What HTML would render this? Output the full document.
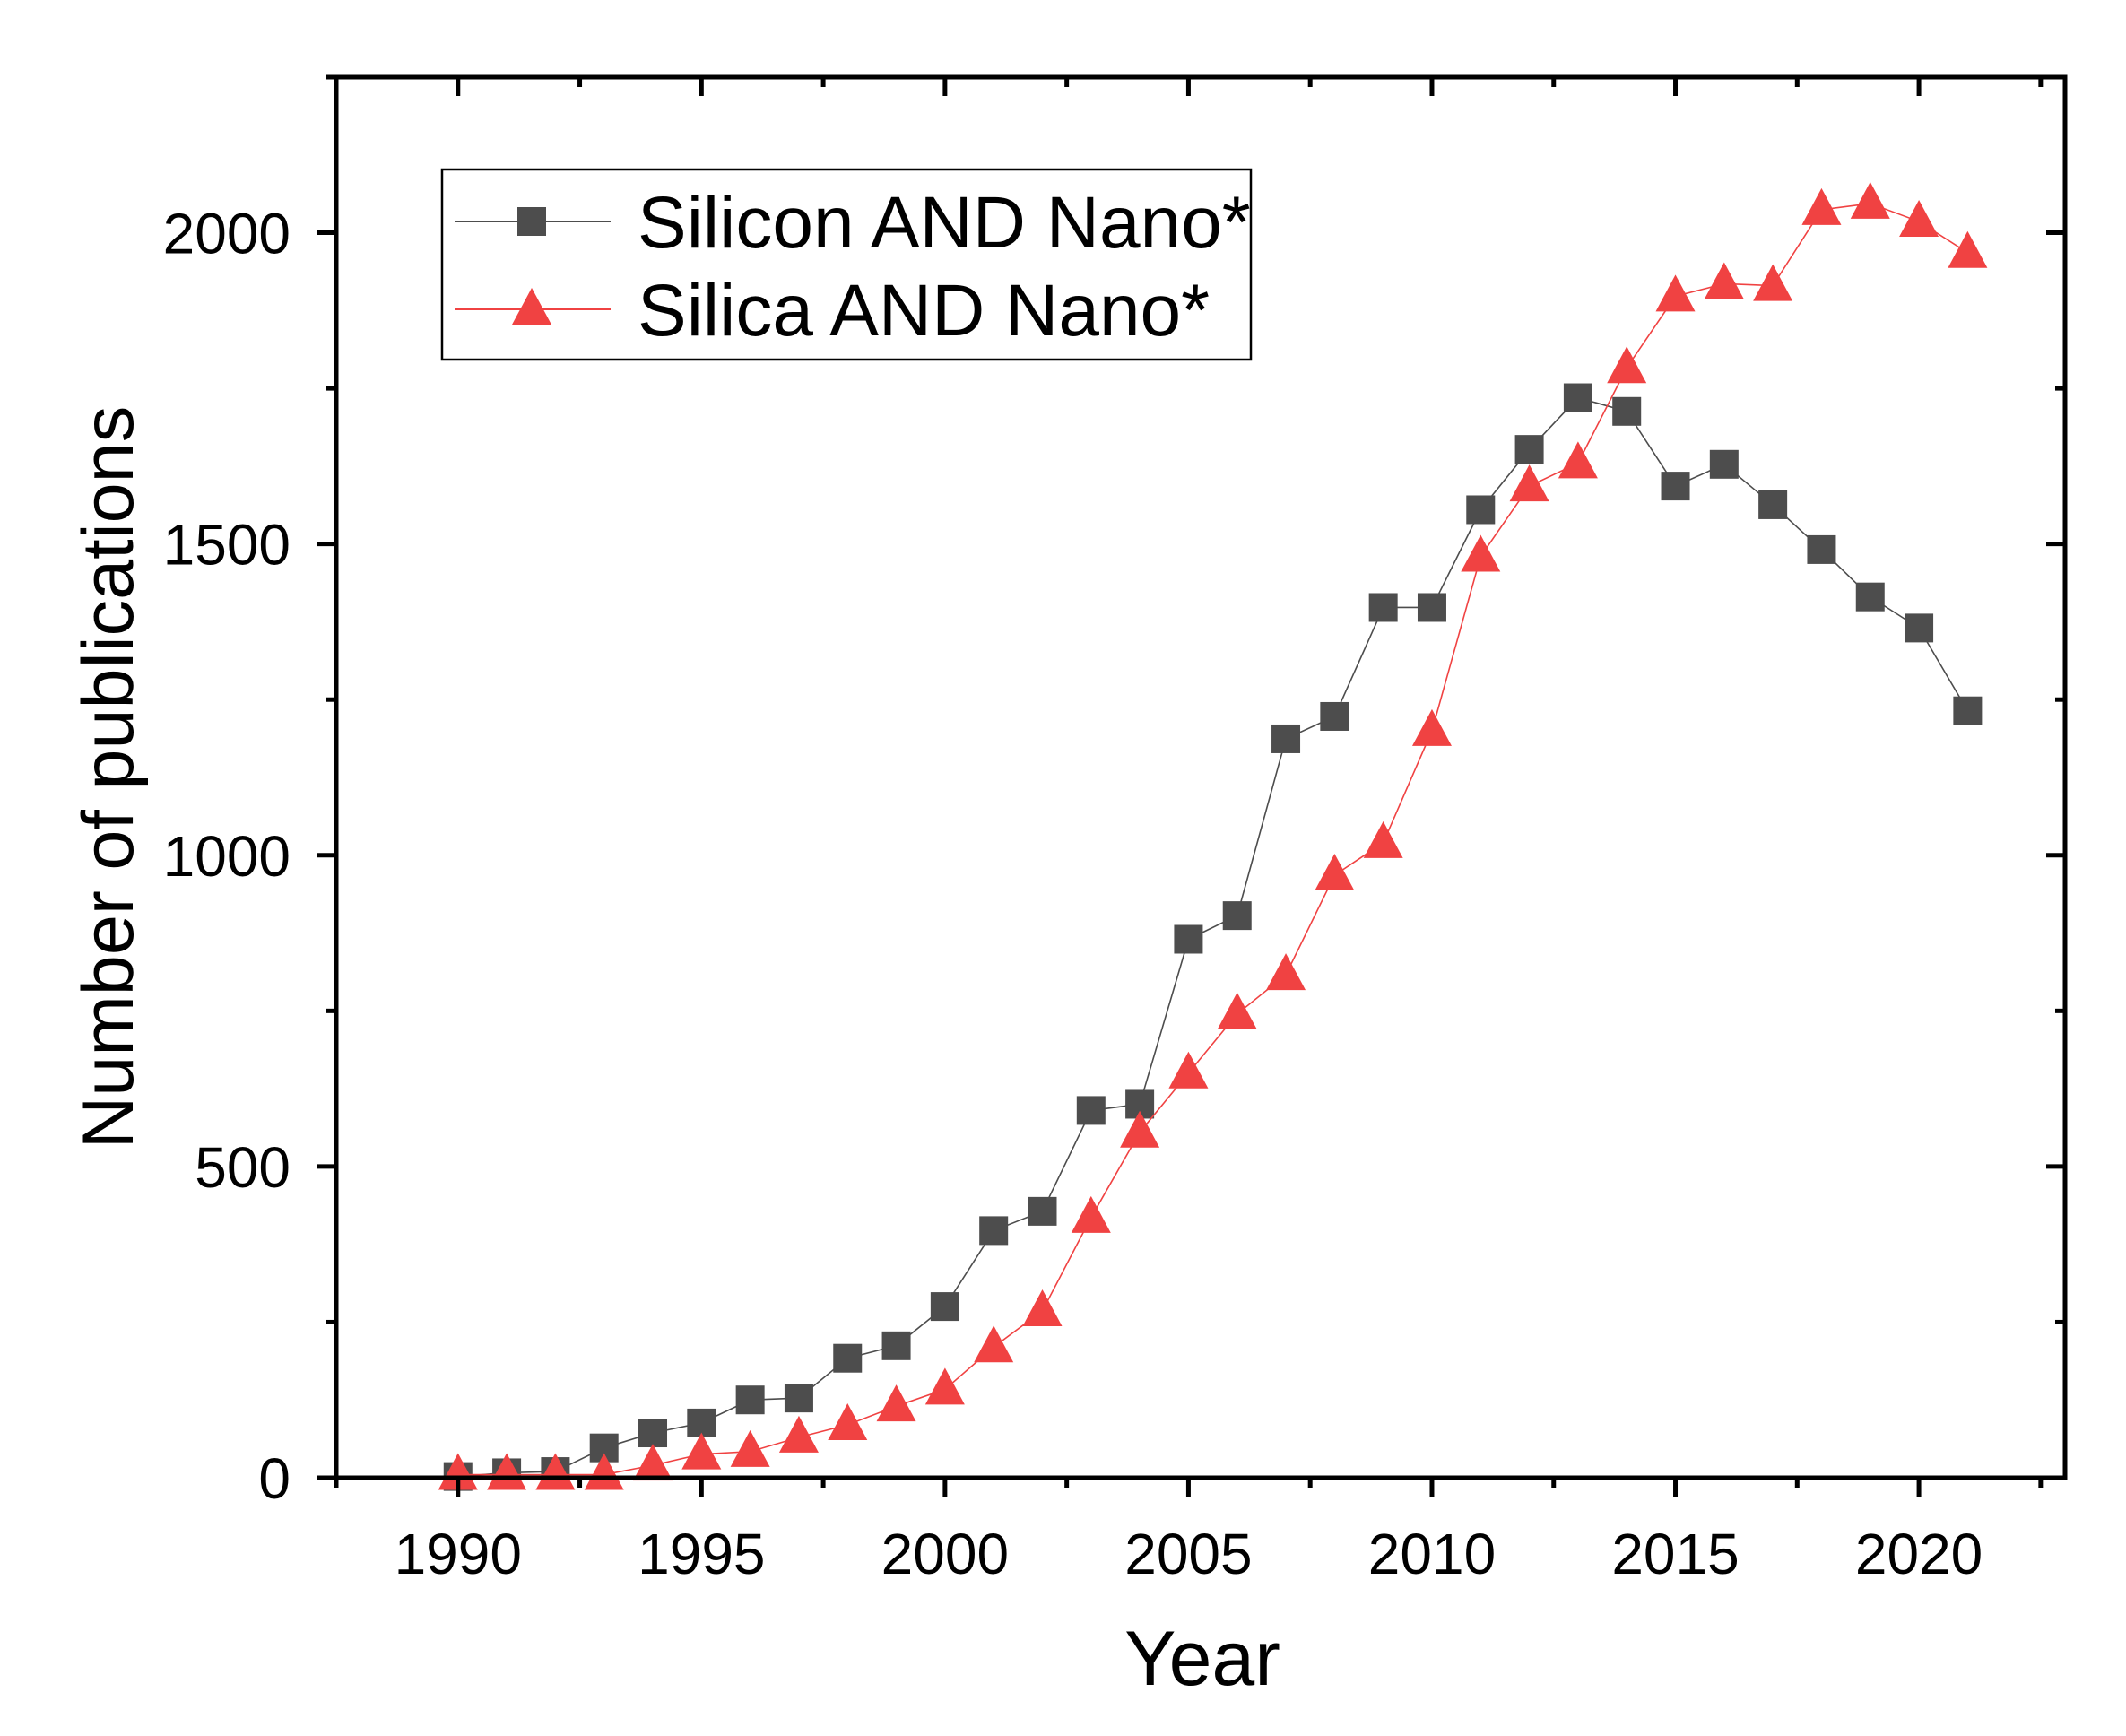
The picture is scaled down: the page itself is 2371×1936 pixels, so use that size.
<!DOCTYPE html>
<html><head><meta charset="utf-8"><style>
html,body{margin:0;padding:0;background:#fff}
svg{display:block}
text{font-family:"Liberation Sans",Arial,sans-serif;fill:#000}
</style></head><body>
<svg id="chart" width="2371" height="1936" viewBox="0 0 2371 1936" xmlns="http://www.w3.org/2000/svg">
</svg>
<script>
const years=[1990,1991,1992,1993,1994,1995,1996,1997,1998,1999,2000,2001,2002,2003,2004,2005,2006,2007,2008,2009,2010,2011,2012,2013,2014,2015,2016,2017,2018,2019,2020,2021];
const siliconValues=[2,8,10,48,72,88,125,128,192,212,275,397,428,590,600,865,903,1187,1223,1398,1398,1555,1652,1735,1713,1593,1628,1563,1491,1415,1365,1232];
const silicaValues=[5,5,5,5,20,38,42,65,85,115,142,210,268,418,555,650,745,808,968,1020,1200,1480,1593,1630,1783,1898,1918,1915,2037,2047,2018,1968];
const xTicks=[1990,1995,2000,2005,2010,2015,2020];
const yTicks=[0,500,1000,1500,2000];
const seriesNames=["Silicon AND Nano*","Silica AND Nano*"];

const NS="http://www.w3.org/2000/svg";
const svg=document.getElementById('chart');
const L=375,R=2303,T=86,B=1648;
const xMin=1987.5,xMax=2023,yMin=0,yMax=2250;
const X=v=>L+(v-xMin)/(xMax-xMin)*(R-L);
const Y=v=>B-(v-yMin)/(yMax-yMin)*(B-T);
function el(tag,attrs,parent){const e=document.createElementNS(NS,tag);for(const k in attrs)e.setAttribute(k,attrs[k]);(parent||svg).appendChild(e);return e;}

function series(vals,color,marker,name){
  const g=el('g',{});
  
  
  const pl=el('polyline',{points:years.map((y,i)=>X(y)+','+Y(vals[i])).join(' '),fill:'none',stroke:color,'stroke-width':1.6},g);
  
  
  years.forEach((y,i)=>{
    const cx=X(y),cy=Y(vals[i]);let m;
    if(marker==='sq'){m=el('rect',{x:cx-16,y:cy-16,width:32,height:32,fill:color},g);}
    else{m=el('polygon',{points:`${cx},${cy-24} ${cx+22},${cy+17} ${cx-22},${cy+17}`,fill:color},g);}
    
    
  });
}
series(siliconValues,'#4d4d4d','sq','silicon-series');
series(silicaValues,'#f04242','tri','silica-series');

const frame=el('rect',{x:L,y:T,width:R-L,height:B-T,fill:'none',stroke:'#000','stroke-width':5});



for(let v=xMin;v<=xMax+0.01;v+=2.5){
  const major=xTicks.includes(v);const len=major?21:11;const x=X(v);
  el('line',{x1:x,y1:B,x2:x,y2:B+len,stroke:'#000','stroke-width':5});
  if(Math.abs(x-L)>2&&Math.abs(x-R)>2)el('line',{x1:x,y1:T,x2:x,y2:T+len,stroke:'#000','stroke-width':5});
}
xTicks.forEach(v=>{
  const t=el('text',{x:X(v),y:1755,'font-size':64,'text-anchor':'middle'});t.textContent=v;
  
  
});
for(let v=0;v<=yMax;v+=250){
  const major=yTicks.includes(v);const len=major?21:11;const y=Y(v);
  el('line',{x1:L-len,y1:y,x2:L,y2:y,stroke:'#000','stroke-width':5});
  el('line',{x1:R-len,y1:y,x2:R,y2:y,stroke:'#000','stroke-width':5});
}
yTicks.forEach(v=>{
  const t=el('text',{x:324,y:Y(v)+23,'font-size':64,'text-anchor':'end'});t.textContent=v;
  
  
});
let t=el('text',{x:1341,y:1879,'font-size':86,'text-anchor':'middle'});t.textContent='Year';


t=el('text',{x:0,y:0,'font-size':81,'text-anchor':'middle',transform:'translate(148,867) rotate(-90)'});t.textContent='Number of publications';



const lg=el('g',{});


el('rect',{x:493,y:189,width:902,height:212,fill:'#fff',stroke:'#000','stroke-width':2.5},lg);
[[247,'#4d4d4d','sq'],[345,'#f04242','tri']].forEach((r,i)=>{
  const [y,c,m]=r;
  const e=el('g',{},lg);
  
  
  el('line',{x1:507,y1:y,x2:681,y2:y,stroke:c,'stroke-width':2},e);
  if(m==='sq')el('rect',{x:577,y:y-16,width:32,height:32,fill:c},e);
  else el('polygon',{points:`593,${y-24} 615,${y+17} 571,${y+17}`,fill:c},e);
  const tx=el('text',{x:711,y:y+29,'font-size':82},e);tx.textContent=seriesNames[i];
});
</script>
</body></html>
